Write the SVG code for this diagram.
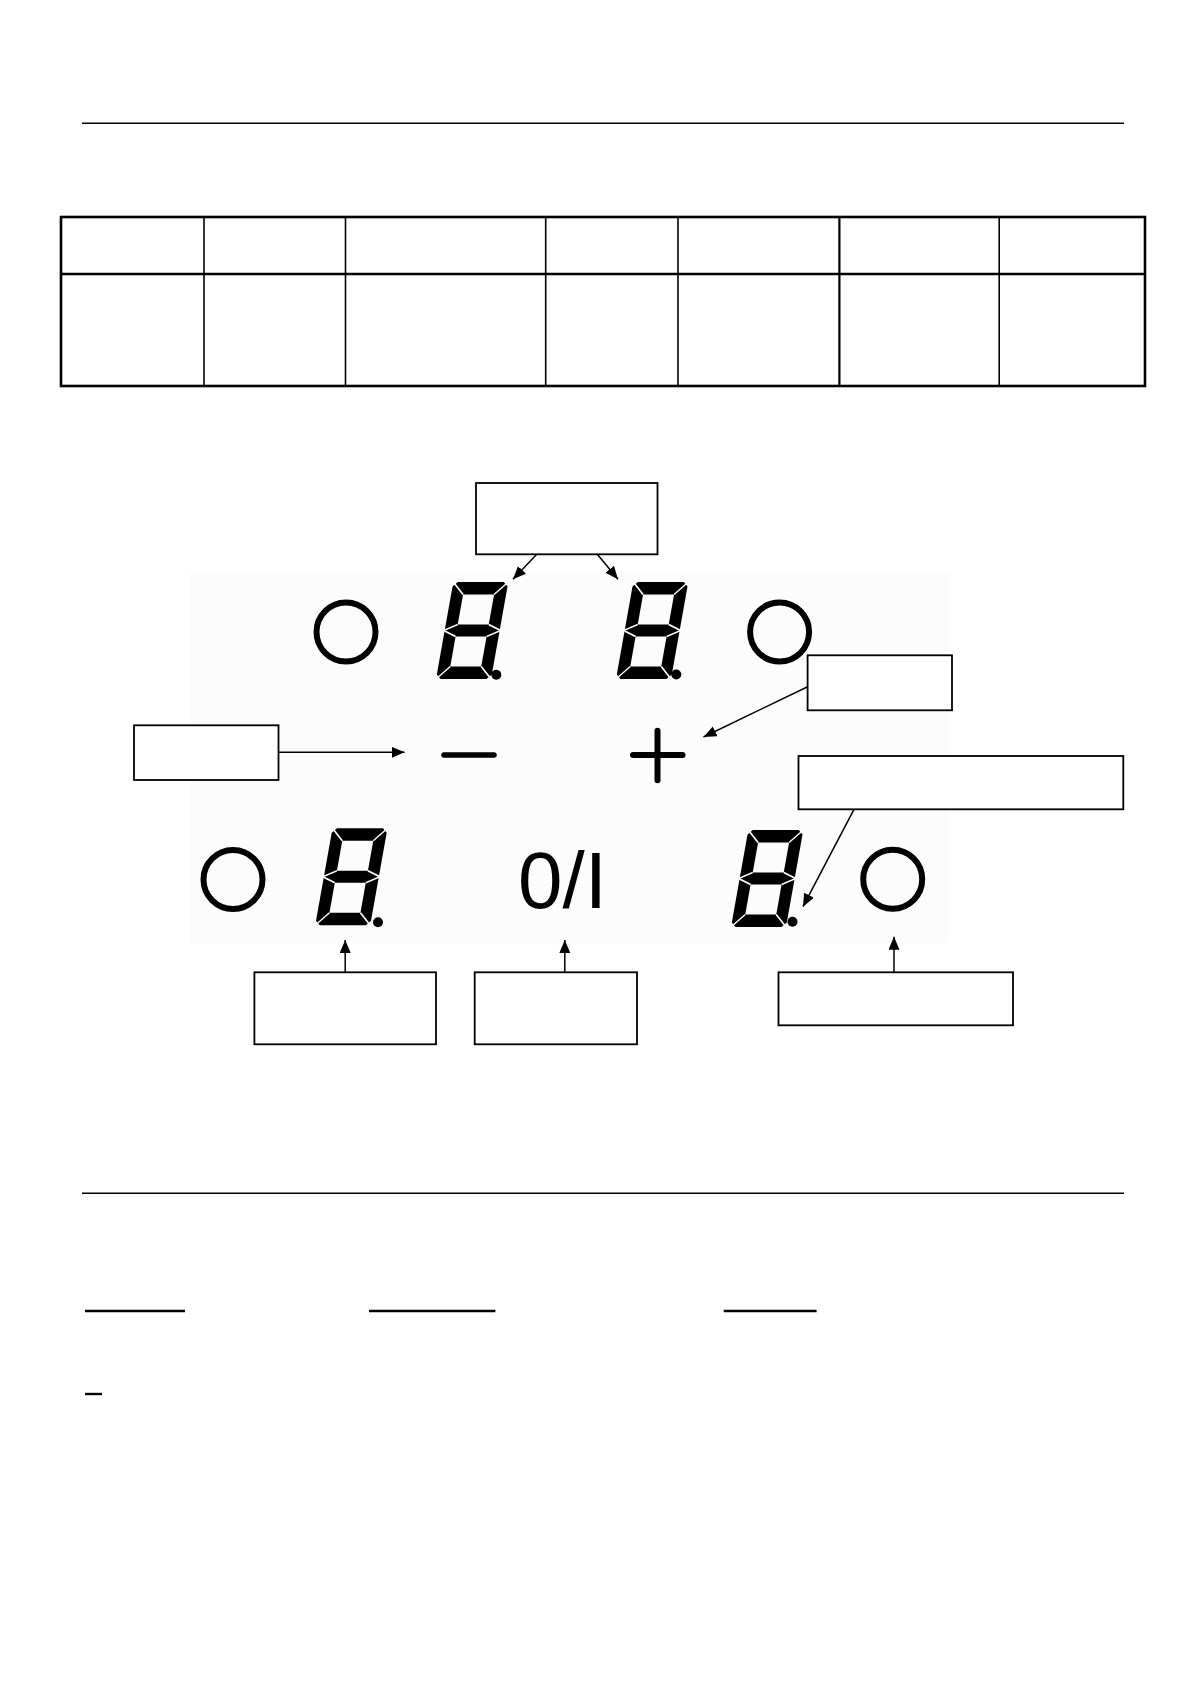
<svg xmlns="http://www.w3.org/2000/svg" xmlns:xlink="http://www.w3.org/1999/xlink" width="1192" height="1685" viewBox="0 0 1192 1685">
<style>
.rule{stroke:#000;stroke-width:1.6;fill:none}
.tbl{stroke:#000;fill:none}
.box{fill:#fff;stroke:#000;stroke-width:1.8}
.ring{fill:none;stroke:#000;stroke-width:6}
.seg{fill:#000;fill-rule:evenodd;stroke:none}
.joint{fill:none;stroke:#fcfcfc;stroke-width:1.6}
.dot{fill:#000}
.sym{stroke:#000;stroke-linecap:round;fill:none}
.conn{stroke:#000;stroke-width:1.5;fill:none;marker-end:url(#ah)}
.ul{stroke:#000;stroke-width:2.4}
.lbl{font-family:"Liberation Sans",Arial,sans-serif;font-size:80px;fill:#000}
</style>
<defs>
<marker id="ah" markerUnits="userSpaceOnUse" markerWidth="14" markerHeight="12" refX="13" refY="5.5" orient="auto">
<path d="M0,0 L13,5.5 L0,11 z" fill="#000"/>
</marker>
<g id="digit">
<path class="seg" d="M4.5,0 H50.5 L55,4.5 V92.5 L50.5,97 H4.5 L0,92.5 V4.5 Z M12,12.5 H43 V42.5 H12 Z M12,54.5 H43 V84.5 H12 Z"/>
<path class="joint" d="M0,0 L12,12.5 M55,0 L43,12.5 M-1,48.5 L12,42.5 M-1,48.5 L12,54.5 M56,48.5 L43,42.5 M56,48.5 L43,54.5 M0,97 L12,84.5 M55,97 L43,84.5"/>
</g>
</defs>
<rect width="1192" height="1685" fill="#fff"/>

<g id="header-rule"><line class="rule" x1="82" y1="123.3" x2="1124" y2="123.3"/></g>

<g id="table">
<rect class="tbl" x="61" y="217" width="1084" height="169" stroke-width="2.6"/>
<line class="tbl" x1="61" y1="274" x2="1145" y2="274" stroke-width="2.6"/>
<line class="tbl" x1="204" y1="217" x2="204" y2="386" stroke-width="1.6"/>
<line class="tbl" x1="345.5" y1="217" x2="345.5" y2="386" stroke-width="1.6"/>
<line class="tbl" x1="545.7" y1="217" x2="545.7" y2="386" stroke-width="1.6"/>
<line class="tbl" x1="678" y1="217" x2="678" y2="386" stroke-width="1.6"/>
<line class="tbl" x1="839.4" y1="217" x2="839.4" y2="386" stroke-width="2.2"/>
<line class="tbl" x1="999.2" y1="217" x2="999.2" y2="386" stroke-width="1.6"/>
</g>

<g id="panel"><rect x="190" y="573" width="760" height="370" fill="#fcfcfc"/></g>

<g id="ring-top-left"><circle class="ring" cx="346" cy="632" r="29.5"/></g>
<g id="ring-top-right"><circle class="ring" cx="779.6" cy="632" r="29.5"/></g>
<g id="ring-bottom-left"><circle class="ring" cx="233" cy="879.5" r="29.5"/></g>
<g id="ring-bottom-right"><circle class="ring" cx="892.7" cy="879.3" r="29.5"/></g>

<g id="digit-top-left"><use xlink:href="#digit" transform="translate(453.3,582) skewX(-10.1)"/><circle class="dot" cx="496.3" cy="674.7" r="5"/></g>
<g id="digit-top-right"><use xlink:href="#digit" transform="translate(633.3,582) skewX(-10.1)"/><circle class="dot" cx="676.3" cy="674.5" r="5"/></g>
<g id="digit-bottom-left"><use xlink:href="#digit" transform="translate(332.5,828.3) skewX(-10.1)"/><circle class="dot" cx="378" cy="922.3" r="5"/></g>
<g id="digit-bottom-right"><use xlink:href="#digit" transform="translate(748.3,830) skewX(-10.1)"/><circle class="dot" cx="792.5" cy="921.7" r="5"/></g>

<g id="minus-key"><line class="sym" x1="444" y1="755" x2="494" y2="755" stroke-width="5.5"/></g>
<g id="plus-key"><line class="sym" x1="633" y1="755" x2="682.5" y2="755" stroke-width="6"/><line class="sym" x1="657.5" y1="730.7" x2="657.5" y2="780.3" stroke-width="6"/></g>
<g id="power-key"><text class="lbl" x="518" y="908">0/I</text></g>

<g id="box-display"><rect class="box" x="476" y="483" width="181.5" height="71.3" stroke-width="2"/></g>
<g id="box-minus"><rect class="box" x="134" y="725.3" width="144.5" height="54.7"/></g>
<g id="box-plus"><rect class="box" x="807.6" y="655.3" width="144.4" height="55" stroke-width="1.5"/></g>
<g id="box-dot"><rect class="box" x="798.5" y="756" width="324.8" height="53.3" stroke-width="1.5"/></g>
<g id="box-zone-display"><rect class="box" x="254.4" y="972.3" width="181.6" height="72" stroke-width="2"/></g>
<g id="box-power"><rect class="box" x="474.7" y="972.3" width="162.3" height="72"/></g>
<g id="box-zone-select"><rect class="box" x="778.5" y="972.3" width="234.5" height="53" stroke-width="1.5"/></g>

<g id="connectors">
<line class="conn" x1="536.8" y1="554.3" x2="513" y2="579.3"/>
<line class="conn" x1="597.3" y1="554.3" x2="618" y2="579.3"/>
<line class="conn" x1="278.5" y1="752.3" x2="404.6" y2="752.3"/>
<line class="conn" x1="807.6" y1="686.7" x2="703.5" y2="737"/>
<line class="conn" x1="854" y1="809.3" x2="803" y2="906.7"/>
<line class="conn" x1="345.2" y1="972.3" x2="345.2" y2="940"/>
<line class="conn" x1="564.8" y1="972.3" x2="564.8" y2="940"/>
<line class="conn" x1="894" y1="972.3" x2="894" y2="936.7"/>
</g>

<g id="footer-rule"><line class="rule" x1="82" y1="1193.3" x2="1124" y2="1193.3"/></g>
<g id="blanks">
<line class="ul" x1="85" y1="1311" x2="185" y2="1311"/>
<line class="ul" x1="369" y1="1311" x2="495.4" y2="1311"/>
<line class="ul" x1="723.7" y1="1311" x2="816.6" y2="1311"/>
<line class="ul" x1="85" y1="1394" x2="102" y2="1394"/>
</g>
</svg>
